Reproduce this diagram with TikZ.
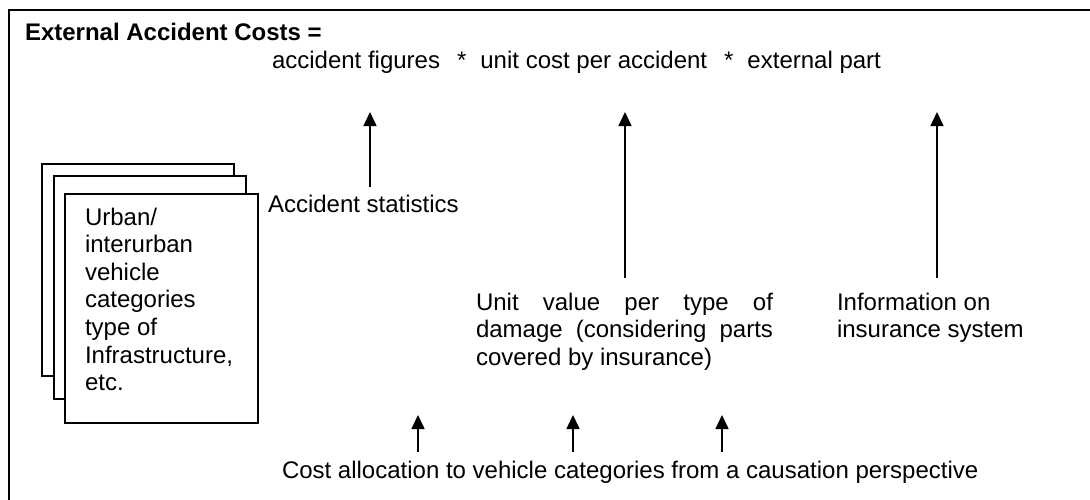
\documentclass[tikz,border=0pt]{standalone}
\usepackage{fontspec}
\setmainfont{Liberation Sans}
\usetikzlibrary{arrows.meta}
\begin{document}
\begin{tikzpicture}[x=1pt,y=-1pt,
  txt/.style={inner sep=0pt, outer sep=0pt, anchor=base west, align=left, font=\fontsize{24}{27.6}\selectfont},
  arr/.style={line width=1.6pt, -{Triangle[width=13pt,length=14pt]}},
  sheet/.style={draw, line width=2pt, fill=white, anchor=north west, inner sep=0pt}]
\useasboundingbox (0,0) rectangle (1090,499);
% frame (cropped on the right and at the bottom)
\draw[line width=2pt] (1092,10) -- (9,10) -- (9,501);
% title and formula
\node[txt, font=\fontsize{24}{27.6}\selectfont\bfseries] (title) at (25,40.5) {External Accident Costs =};
\node[txt] (formula) at (272,68) {accident figures\hspace{17pt}*\hspace{14pt}unit cost per accident\hspace{17pt}*\hspace{14pt}external part};
% stacked sheets
\node[sheet, minimum width=192pt, minimum height=212pt] (back) at (41,163) {};
\node[sheet, minimum width=192pt, minimum height=223pt] (middle) at (53,175) {};
\node[sheet, minimum width=193pt, minimum height=229pt] (front) at (64,193) {};
% multi-line nodes: base anchor is the baseline of the last line
\node[txt] (fronttext) at (85,390.6) {Urban/\\interurban\\vehicle\\categories\\type of\\Infrastructure,\\etc.};
% sources
\node[txt] (stats) at (268,212) {Accident statistics};
\node[txt] (unitval) at (476,365.2) {\makebox[297pt][s]{Unit value per type of}\\\makebox[297pt][s]{damage (considering parts}\\covered by insurance)};
\node[txt] (insur) at (837,337.6) {Information on\\insurance system};
\node[txt] (alloc) at (282,478) {Cost allocation to vehicle categories from a causation perspective};
% arrow ends
\coordinate (t1) at (370,112); \coordinate (s1) at (370,187);
\coordinate (t2) at (625,112); \coordinate (s2) at (625,278);
\coordinate (t3) at (937,112); \coordinate (s3) at (937,278);
\coordinate (b1t) at (418,415); \coordinate (b1s) at (418,452);
\coordinate (b2t) at (573,415); \coordinate (b2s) at (573,452);
\coordinate (b3t) at (722,415); \coordinate (b3s) at (722,452);
\draw[arr] (s1) -- (t1);
\draw[arr] (s2) -- (t2);
\draw[arr] (s3) -- (t3);
\draw[arr] (b1s) -- (b1t);
\draw[arr] (b2s) -- (b2t);
\draw[arr] (b3s) -- (b3t);
\end{tikzpicture}
\end{document}
